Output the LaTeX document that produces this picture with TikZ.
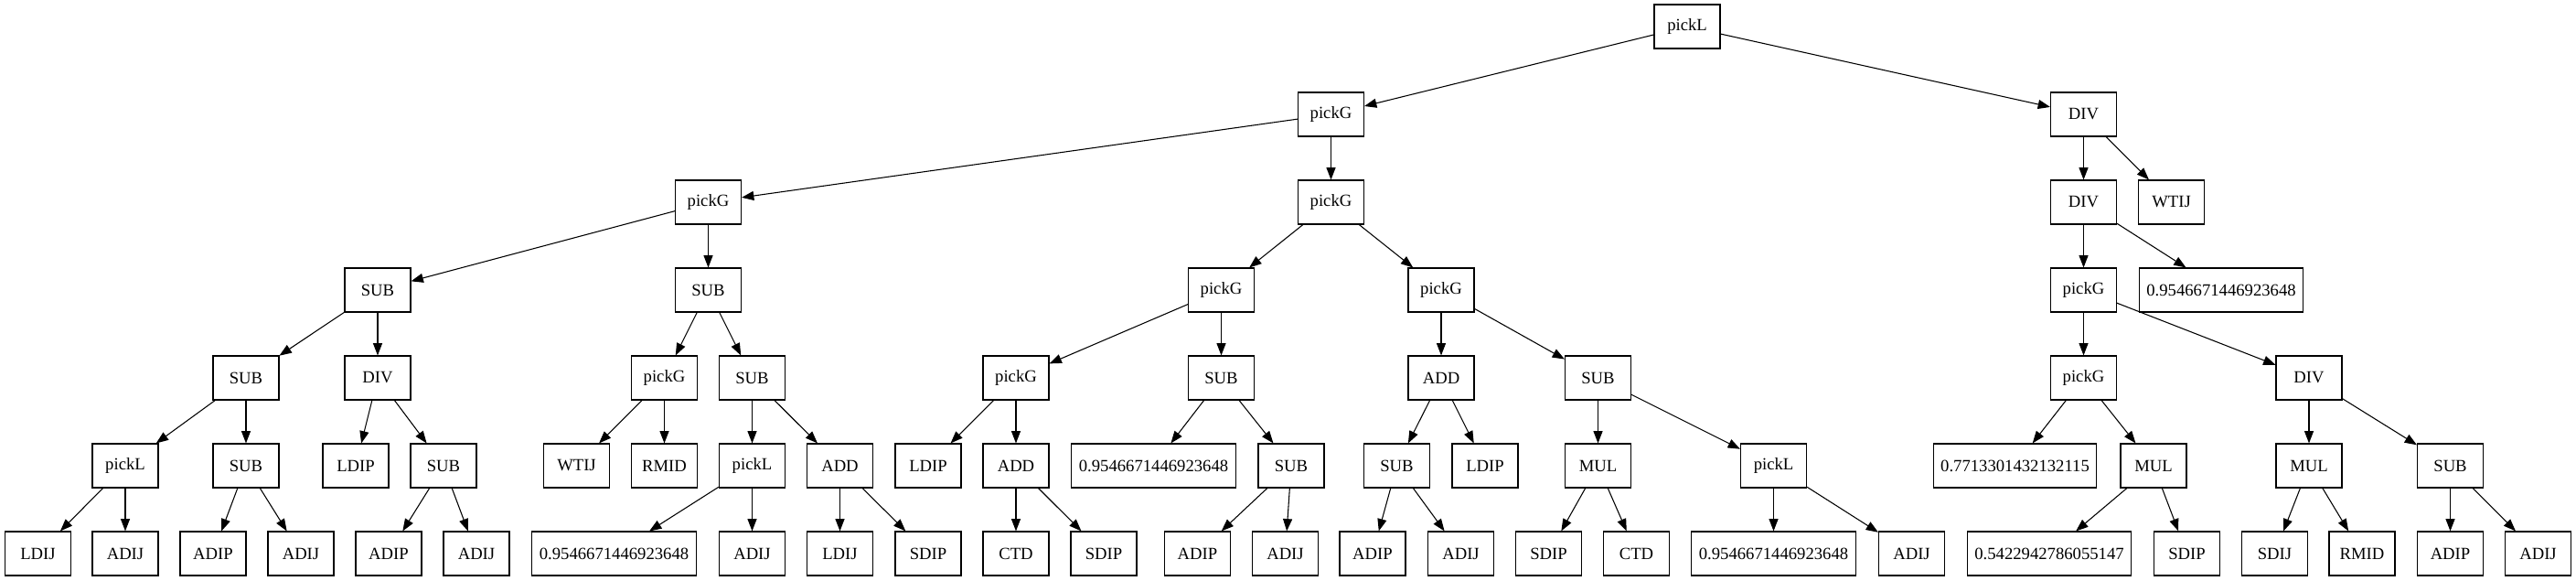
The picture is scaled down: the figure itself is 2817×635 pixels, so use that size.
\documentclass[tikz,border=0pt]{standalone}
\usepackage{fontspec}
\setmainfont{Liberation Serif}
\usepackage{tikz}
\usetikzlibrary{arrows.meta}

\begin{document}
\begin{tikzpicture}[thick, x=0.75pt, y=-0.75pt,
        box/.style={draw, rectangle, minimum width=54pt, minimum height=36pt,
            inner xsep=6pt, font=\fontsize{14}{16}\selectfont},
        arr/.style={-{Triangle[length=10pt,width=7.5pt]}}]
        \useasboundingbox (0,0) rectangle (2817,635);

        \node[box] (r) at (1845,29) {pickL};

        \node[box] (a1) at (1455.5,125) {pickG};
        \node[box] (a2) at (2278.5,125) {DIV};

        \node[box] (b1) at (774.5,221) {pickG};
        \node[box] (b2) at (1455.5,221) {pickG};
        \node[box] (b3) at (2278.5,221) {DIV};
        \node[box] (b4) at (2374.5,221) {WTIJ};

        \node[box] (c1) at (413,317) {SUB};
        \node[box] (c2) at (774.5,317) {SUB};
        \node[box] (c3) at (1335.5,317) {pickG};
        \node[box] (c4) at (1576,317) {pickG};
        \node[box] (c5) at (2278.5,317) {pickG};
        \node[box] (c6) at (2429,317) {0.9546671446923648};

        \node[box] (d1) at (269,413) {SUB};
        \node[box] (d2) at (413,413) {DIV};
        \node[box] (d3) at (726.5,413) {pickG};
        \node[box] (d4) at (822.5,413) {SUB};
        \node[box] (d5) at (1111,413) {pickG};
        \node[box] (d6) at (1335.5,413) {SUB};
        \node[box] (d7) at (1576,413) {ADD};
        \node[box] (d8) at (1747.5,413) {SUB};
        \node[box] (d9) at (2278.5,413) {pickG};
        \node[box] (d10) at (2525,413) {DIV};

        \node[box] (e1) at (137,509) {pickL};
        \node[box] (e2) at (269,509) {SUB};
        \node[box] (e3) at (389,509) {LDIP};
        \node[box] (e4) at (485,509) {SUB};
        \node[box] (e5) at (630.5,509) {WTIJ};
        \node[box] (e6) at (726.5,509) {RMID};
        \node[box] (e7) at (822.5,509) {pickL};
        \node[box] (e8) at (918.5,509) {ADD};
        \node[box] (e9) at (1015,509) {LDIP};
        \node[box] (e10) at (1111,509) {ADD};
        \node[box] (e11) at (1261.5,509) {0.9546671446923648};
        \node[box] (e12) at (1412,509) {SUB};
        \node[box] (e13) at (1527.5,509) {SUB};
        \node[box] (e14) at (1624,509) {LDIP};
        \node[box] (e15) at (1747.5,509) {MUL};
        \node[box] (e16) at (1939.5,509) {pickL};
        \node[box] (e17) at (2203.5,509) {0.7713301432132115};
        \node[box] (e18) at (2355,509) {MUL};
        \node[box] (e19) at (2525,509) {MUL};
        \node[box] (e20) at (2679.5,509) {SUB};

        \node[box] (f1) at (41.5,605) {LDIJ};
        \node[box] (f2) at (137,605) {ADIJ};
        \node[box] (f3) at (233,605) {ADIP};
        \node[box] (f4) at (329,605) {ADIJ};
        \node[box] (f5) at (425,605) {ADIP};
        \node[box] (f6) at (521,605) {ADIJ};
        \node[box] (f7) at (671.5,605) {0.9546671446923648};
        \node[box] (f8) at (822.5,605) {ADIJ};
        \node[box] (f9) at (918.5,605) {LDIJ};
        \node[box] (f10) at (1015,605) {SDIP};
        \node[box] (f11) at (1111,605) {CTD};
        \node[box] (f12) at (1207,605) {SDIP};
        \node[box] (f13) at (1309.5,605) {ADIP};
        \node[box] (f14) at (1405.5,605) {ADIJ};
        \node[box] (f15) at (1501,605) {ADIP};
        \node[box] (f16) at (1597.5,605) {ADIJ};
        \node[box] (f17) at (1693.5,605) {SDIP};
        \node[box] (f18) at (1789.5,605) {CTD};
        \node[box] (f19) at (1939.5,605) {0.9546671446923648};
        \node[box] (f20) at (2090.5,605) {ADIJ};
        \node[box] (f21) at (2241,605) {0.5422942786055147};
        \node[box] (f22) at (2391.5,605) {SDIP};
        \node[box] (f23) at (2487.5,605) {SDIJ};
        \node[box] (f24) at (2583,605) {RMID};
        \node[box] (f25) at (2679.5,605) {ADIP};
        \node[box] (f26) at (2775.5,605) {ADIJ};

        \draw[arr] (r) -- (a1); \draw[arr] (r) -- (a2);
        \draw[arr] (a1) -- (b1); \draw[arr] (a1) -- (b2);
        \draw[arr] (a2) -- (b3); \draw[arr] (a2) -- (b4);
        \draw[arr] (b1) -- (c1); \draw[arr] (b1) -- (c2);
        \draw[arr] (b2) -- (c3); \draw[arr] (b2) -- (c4);
        \draw[arr] (b3) -- (c5); \draw[arr] (b3) -- (c6);
        \draw[arr] (c1) -- (d1); \draw[arr] (c1) -- (d2);
        \draw[arr] (c2) -- (d3); \draw[arr] (c2) -- (d4);
        \draw[arr] (c3) -- (d5); \draw[arr] (c3) -- (d6);
        \draw[arr] (c4) -- (d7); \draw[arr] (c4) -- (d8);
        \draw[arr] (c5) -- (d9); \draw[arr] (c5) -- (d10);
        \draw[arr] (d1) -- (e1); \draw[arr] (d1) -- (e2);
        \draw[arr] (d2) -- (e3); \draw[arr] (d2) -- (e4);
        \draw[arr] (d3) -- (e5); \draw[arr] (d3) -- (e6);
        \draw[arr] (d4) -- (e7); \draw[arr] (d4) -- (e8);
        \draw[arr] (d5) -- (e9); \draw[arr] (d5) -- (e10);
        \draw[arr] (d6) -- (e11); \draw[arr] (d6) -- (e12);
        \draw[arr] (d7) -- (e13); \draw[arr] (d7) -- (e14);
        \draw[arr] (d8) -- (e15); \draw[arr] (d8) -- (e16);
        \draw[arr] (d9) -- (e17); \draw[arr] (d9) -- (e18);
        \draw[arr] (d10) -- (e19); \draw[arr] (d10) -- (e20);
        \draw[arr] (e1) -- (f1); \draw[arr] (e1) -- (f2);
        \draw[arr] (e2) -- (f3); \draw[arr] (e2) -- (f4);
        \draw[arr] (e4) -- (f5); \draw[arr] (e4) -- (f6);
        \draw[arr] (e7) -- (f7); \draw[arr] (e7) -- (f8);
        \draw[arr] (e8) -- (f9); \draw[arr] (e8) -- (f10);
        \draw[arr] (e10) -- (f11); \draw[arr] (e10) -- (f12);
        \draw[arr] (e12) -- (f13); \draw[arr] (e12) -- (f14);
        \draw[arr] (e13) -- (f15); \draw[arr] (e13) -- (f16);
        \draw[arr] (e15) -- (f17); \draw[arr] (e15) -- (f18);
        \draw[arr] (e16) -- (f19); \draw[arr] (e16) -- (f20);
        \draw[arr] (e18) -- (f21); \draw[arr] (e18) -- (f22);
        \draw[arr] (e19) -- (f23); \draw[arr] (e19) -- (f24);
        \draw[arr] (e20) -- (f25); \draw[arr] (e20) -- (f26);
\end{tikzpicture}
\end{document}
